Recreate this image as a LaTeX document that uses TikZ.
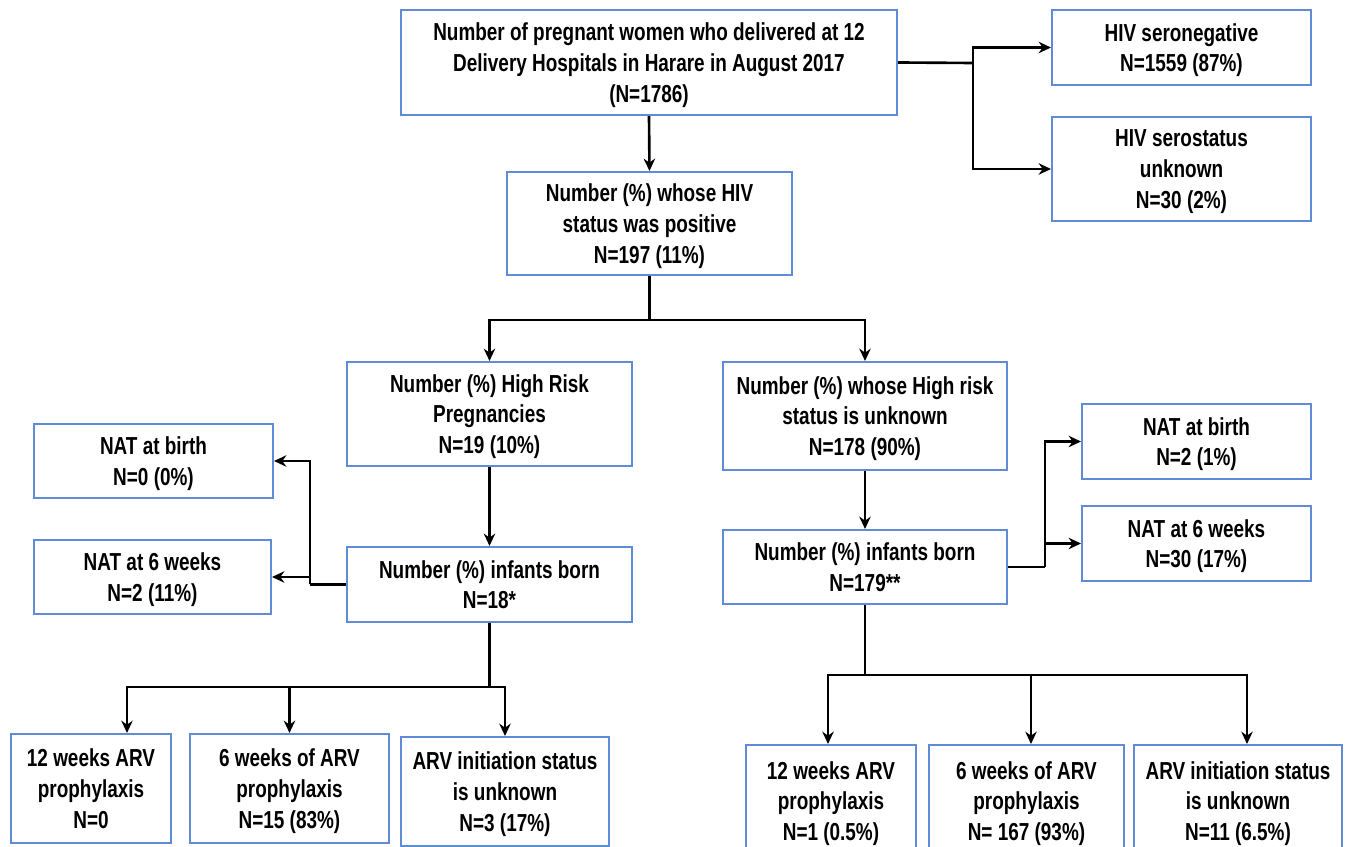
\documentclass[tikz,border=0pt]{standalone}
\usepackage{fontspec}
\setmainfont{Liberation Sans}[FakeStretch=0.77]
\usetikzlibrary{arrows.meta,calc}
\definecolor{boxblue}{RGB}{95,140,215}
\tikzset{
  box/.style={draw=boxblue, line width=1.2pt, fill=white, align=center, inner sep=2pt,
    text depth=0pt, font=\fontsize{14}{17.5}\selectfont\bfseries},
  conn/.style={line width=1.5pt, black},
  arr/.style={conn, -{Stealth[length=7pt,width=6.5pt]}},
}
\begin{document}
\begin{tikzpicture}[x=0.02cm,y=-0.02cm]
\useasboundingbox[fill=white] (0,0) rectangle (1346,847);
% top level
\node[box, minimum width=9.92cm, minimum height=2.1cm] (top) at (649,62.5)
  {Number of pregnant women who delivered at 12\\Delivery Hospitals in Harare in August 2017\\(N=1786)};
\node[box, minimum width=5.18cm, minimum height=1.5cm] (neg) at (1181.5,47.5)
  {HIV seronegative\\N=1559 (87\%)};
\node[box, minimum width=5.18cm, minimum height=2.08cm] (unk) at (1181.5,169)
  {HIV serostatus\\unknown\\N=30 (2\%)};
\node[box, minimum width=5.7cm, minimum height=2.06cm] (pos) at (649.5,223.5)
  {Number (\%) whose HIV\\status was positive\\N=197 (11\%)};
% second level
\node[box, minimum width=5.7cm, minimum height=2.08cm] (hr) at (489.5,414)
  {Number (\%) High Risk\\Pregnancies\\N=19 (10\%)};
\node[box, minimum width=5.68cm, minimum height=2.16cm] (hru) at (865,416)
  {Number (\%) whose High risk\\status is unknown\\N=178 (90\%)};
% left branch
\node[box, minimum width=4.78cm, minimum height=1.48cm] (natbL) at (153.5,461)
  {NAT at birth\\N=0 (0\%)};
\node[box, minimum width=4.74cm, minimum height=1.48cm] (nat6L) at (152.5,577)
  {NAT at 6 weeks\\N=2 (11\%)};
\node[box, minimum width=5.7cm, minimum height=1.5cm] (infL) at (489.5,584.5)
  {Number (\%) infants born\\N=18*};
% right branch
\node[box, minimum width=4.58cm, minimum height=1.5cm] (natbR) at (1196.5,441.5)
  {NAT at birth\\N=2 (1\%)};
\node[box, minimum width=4.58cm, minimum height=1.5cm] (nat6R) at (1196.5,543.5)
  {NAT at 6 weeks\\N=30 (17\%)};
\node[box, minimum width=5.68cm, minimum height=1.48cm] (infR) at (865,567)
  {Number (\%) infants born\\N=179**};
% bottom left
\node[box, minimum width=3.2cm, minimum height=2.18cm] (L1) at (91,788.5)
  {12 weeks ARV\\prophylaxis\\N=0};
\node[box, minimum width=3.98cm, minimum height=2.18cm] (L2) at (289.5,788.5)
  {6 weeks of ARV\\prophylaxis\\N=15 (83\%)};
\node[box, minimum width=4.16cm, minimum height=2.18cm] (L3) at (505,791.5)
  {ARV initiation status\\is unknown\\N=3 (17\%)};
% bottom right
\node[box, minimum width=3.4cm, minimum height=2.24cm] (R1) at (831,801)
  {12 weeks ARV\\prophylaxis\\N=1 (0.5\%)};
\node[box, minimum width=3.9cm, minimum height=2.24cm] (R2) at (1026.5,801)
  {6 weeks of ARV\\prophylaxis\\N= 167 (93\%)};
\node[box, minimum width=4.16cm, minimum height=2.24cm] (R3) at (1238,801)
  {ARV initiation status\\is unknown\\N=11 (6.5\%)};
% connectors
\coordinate (j1) at (973,63);
\draw[conn] (top.east) -- (j1);
\draw[arr] (j1) |- (neg.west);
\draw[arr] (j1) |- (unk.west);
\draw[arr] (top.south) -- (pos.north);
\coordinate (j2) at (649.5,320);
\draw[conn] (pos.south) -- (j2);
\draw[arr] (j2) -| (hr.north);
\draw[arr] (j2) -| (hru.north);
\draw[arr] (hr.south) -- (infL.north);
\draw[arr] (hru.south) -- (infR.north);
\coordinate (j3) at (310,584.5);
\draw[conn] (infL.west) -- (j3);
\draw[arr] (j3) |- (natbL.east);
\draw[arr] (j3) |- (nat6L.east);
\coordinate (j4) at (1045,567);
\draw[conn] (infR.east) -- (j4);
\draw[arr] (j4) |- (natbR.west);
\draw[arr] (j4) |- (nat6R.west);
\coordinate (j5) at (489.5,687);
\draw[conn] (infL.south) -- (j5);
\draw[arr] (j5) -| ([xshift=0.72cm]L1.north);
\draw[arr] (j5) -| (L2.north);
\draw[arr] (j5) -| (L3.north);
\coordinate (j6) at (865,675);
\draw[conn] (infR.south) -- (j6);
\draw[arr] (j6) -| ([xshift=-0.06cm]R1.north);
\draw[arr] (j6) -| ([xshift=0.09cm]R2.north);
\draw[arr] (j6) -| ([xshift=0.18cm]R3.north);
\end{tikzpicture}
\end{document}
